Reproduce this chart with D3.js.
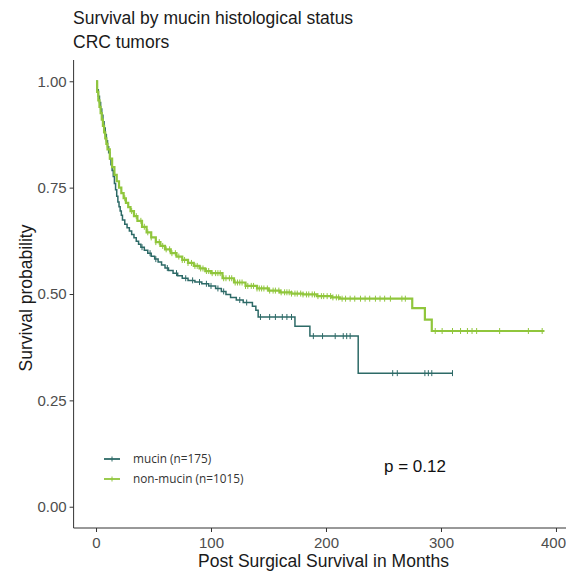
<!DOCTYPE html>
<html>
<head>
<meta charset="utf-8">
<script src="https://cdn.jsdelivr.net/npm/d3@7"></script>
<style>
  html, body { margin: 0; padding: 0; background: #ffffff; }
  svg { display: block; font-family: "Liberation Sans", Arial, sans-serif; }
</style>
</head>
<body>
<svg id="chart" width="566" height="574"></svg>
<script>
// Kaplan–Meier estimates (months, survival probability), step-after
const mucinTime = [0,1,2,3,4,5,6,7,8,9,10,11,12,13,14,15,16,17,18,19,20,21,22,23,25,27,29,31,33,35,37,39,42,45,48,51,54,57,60,63,67,71,75,80,86,92,98,104,109,113,117,122,128,136,139,141,173,186,228,310];
const mucinSurv = [1.0,0.98,0.965,0.95,0.935,0.92,0.905,0.89,0.875,0.86,0.846,0.832,0.818,0.804,0.79,0.776,0.76,0.745,0.73,0.716,0.705,0.695,0.685,0.674,0.664,0.656,0.648,0.64,0.632,0.624,0.617,0.61,0.603,0.596,0.589,0.582,0.575,0.568,0.561,0.555,0.549,0.543,0.537,0.532,0.528,0.524,0.519,0.513,0.506,0.499,0.492,0.486,0.48,0.471,0.462,0.446,0.424,0.401,0.314,0.314];
const mucinCensor = [40,47,52,62,70,78,84,90,96,100,106,111,125,131,143,151,156,162,166,170,189,197,208,215,218,221,258,262,286,289,292,310];

const nonMucinTime = [0,1,2,3,4,5,6,7,8,9,10,12,14,16,18,20,22,24,26,28,30,33,36,40,44,48,52,56,60,65,70,75,80,85,90,95,100,110,120,130,140,150,160,170,180,192,205,212,275,286,292,390];
const nonMucinSurv = [1.0,0.975,0.955,0.94,0.925,0.91,0.895,0.88,0.866,0.853,0.84,0.818,0.798,0.78,0.765,0.75,0.737,0.725,0.714,0.704,0.695,0.683,0.672,0.658,0.645,0.633,0.622,0.613,0.605,0.596,0.588,0.58,0.573,0.566,0.56,0.554,0.549,0.537,0.527,0.519,0.513,0.508,0.504,0.501,0.499,0.495,0.492,0.489,0.467,0.44,0.413,0.413];
const nonMucinCensor = [25,31,35,39,42,45,48,52,55,58,61,64,66,69,72,75,77,80,83,86,88,91,93,96,98,101,104,106,108,111,113,116,118,121,123,125,127,130,132,135,137,140,142,144,146,149,151,154,156,159,161,164,166,168,170,173,175,178,180,183,185,188,190,193,196,198,201,204,206,209,211,214,217,221,225,230,234,238,243,247,251,256,266,269,295,301,310,317,323,327,331,351,376,388];

const groups = ["mucin (n=175)", "non-mucin (n=1015)"];
const colors = ["#2d6a67", "#90c63c"];
const xTicks = [0, 100, 200, 300, 400];
const yTicks = [0, 0.25, 0.5, 0.75, 1.0];
const pLabel = "p = 0.12";

const series = [
  { name: groups[0], color: colors[0], time: mucinTime, surv: mucinSurv, censor: mucinCensor, width: 1.5 },
  { name: groups[1], color: colors[1], time: nonMucinTime, surv: nonMucinSurv, censor: nonMucinCensor, width: 2.2 }
];

const svg = d3.select("#chart");
const plotLeft = 73.6, plotRight = 566.9, plotTop = 60, plotBottom = 528;

const x = d3.scaleLinear().domain([-19.5, 409.5]).range([plotLeft, plotRight]);
const y = d3.scaleLinear().domain([-0.05, 1.05]).range([plotBottom, plotTop]);

// Titles
svg.append("text").attr("x", 73).attr("y", 24).attr("font-size", 17.5).attr("fill", "#1a1a1a")
  .text("Survival by mucin histological status");
svg.append("text").attr("x", 73).attr("y", 48).attr("font-size", 17.5).attr("fill", "#1a1a1a")
  .text("CRC tumors");

// Axes
const xAxis = svg.append("g").attr("transform", `translate(0,${plotBottom})`)
  .call(d3.axisBottom(x).tickValues(xTicks).tickSize(4).tickPadding(5).tickFormat(d3.format("d")));
const yAxis = svg.append("g").attr("transform", `translate(${plotLeft},0)`)
  .call(d3.axisLeft(y).tickValues(yTicks).tickSize(4).tickPadding(3).tickFormat(d3.format(".2f")));
[xAxis, yAxis].forEach(g => {
  g.select(".domain").attr("stroke", "#333").attr("stroke-width", 1);
  g.selectAll(".tick line").attr("stroke", "#333");
  g.selectAll(".tick text").attr("fill", "#4d4d4d").attr("font-size", 15)
    .attr("font-family", "Liberation Sans, Arial, sans-serif");
});
// keep the last x label inside the canvas edge
xAxis.selectAll(".tick text").filter(d => d === xTicks[xTicks.length - 1]).attr("dx", -3);
xAxis.select(".domain").attr("d", `M${plotLeft},0H${plotRight}`);
yAxis.select(".domain").attr("d", `M0,${plotBottom}V${plotTop}`);

// Axis titles
svg.append("text").attr("x", 323.5).attr("y", 567).attr("text-anchor", "middle")
  .attr("font-size", 17.5).attr("fill", "#1a1a1a").text("Post Surgical Survival in Months");
svg.append("text").attr("transform", "translate(31.5,298) rotate(-90)").attr("text-anchor", "middle")
  .attr("font-size", 17.5).attr("fill", "#1a1a1a").text("Survival probability");

// Curves
const line = d3.line().curve(d3.curveStepAfter).x(d => x(d[0])).y(d => y(d[1]));
const bis = d3.bisector(d => d).right;

series.forEach(s => {
  const pts = s.time.map((t, i) => [t, s.surv[i]]);
  svg.append("path").datum(pts).attr("d", line).attr("fill", "none")
    .attr("stroke", s.color).attr("stroke-width", s.width);
  // censor marks
  svg.append("g").selectAll("line").data(s.censor).join("line")
    .attr("x1", d => x(d)).attr("x2", d => x(d))
    .attr("y1", d => y(s.surv[Math.max(0, bis(s.time, d) - 1)]) - 3)
    .attr("y2", d => y(s.surv[Math.max(0, bis(s.time, d) - 1)]) + 3)
    .attr("stroke", s.color).attr("stroke-width", 1);
});

// Legend
const legend = svg.append("g");
series.forEach((s, i) => {
  const ly = 459 + i * 20;
  legend.append("line").attr("x1", 104).attr("x2", 120).attr("y1", ly).attr("y2", ly)
    .attr("stroke", s.color).attr("stroke-width", 1.8);
  legend.append("line").attr("x1", 112).attr("x2", 112).attr("y1", ly - 2.5).attr("y2", ly + 2.5)
    .attr("stroke", s.color).attr("stroke-width", 1);
  legend.append("text").attr("x", 133).attr("y", ly + 4).attr("font-size", 11.8)
    .attr("font-family", "Open Sans, Liberation Sans, sans-serif").attr("fill", "#333").text(s.name);
});

// Log-rank p value
svg.append("text").attr("x", 384).attr("y", 472).attr("font-size", 17).attr("fill", "#111").text(pLabel);
</script>
</body>
</html>
